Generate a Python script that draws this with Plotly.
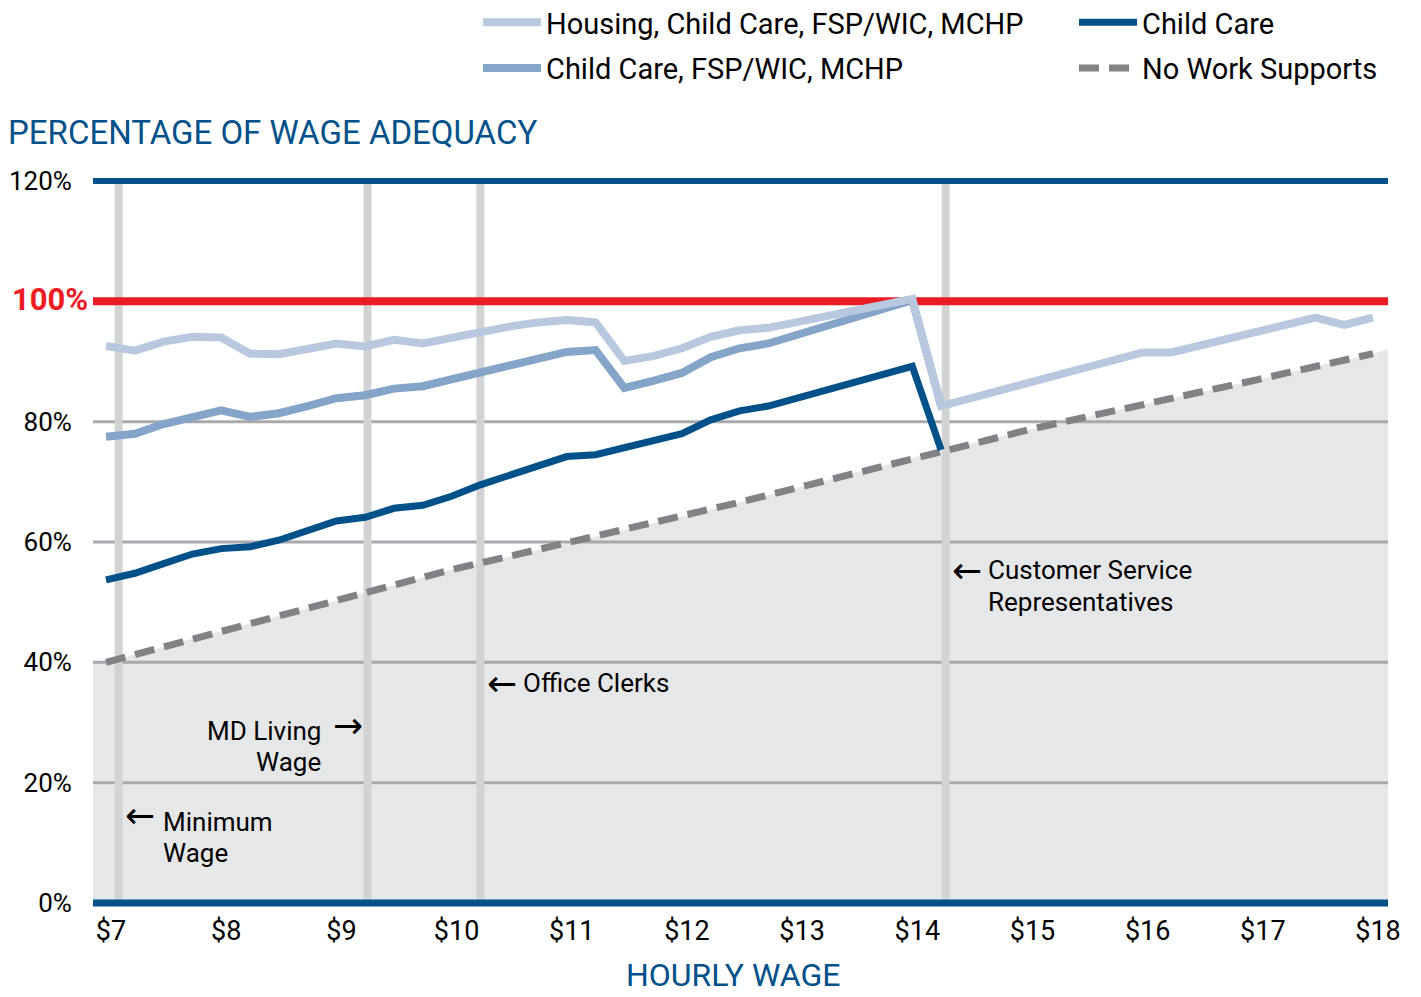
import plotly.graph_objects as go

# ---------------- data ----------------
wages = [7.00, 7.25, 7.50, 7.75, 8.00, 8.25, 8.50, 8.75, 9.00, 9.25, 9.50, 9.75,
         10.00, 10.25, 10.50, 10.75, 11.00, 11.25, 11.50, 11.75, 12.00, 12.25, 12.50, 12.75,
         13.00, 13.25, 13.50, 13.75, 14.00, 14.25, 14.50, 14.75, 15.00, 15.25, 15.50, 15.75,
         16.00, 16.25, 16.50, 16.75, 17.00, 17.25, 17.50, 17.75, 18.00]

housing_cc_fsp_mchp = [92.6, 91.8, 93.3, 94.1, 94.0, 91.3, 91.2, 92.2, 93.0, 92.5, 93.6, 93.0,
                       94.0, 94.9, 95.8, 96.5, 96.9, 96.5, 90.1, 90.9, 92.2, 94.1, 95.2, 95.6,
                       96.6, 97.6, 98.5, 99.3, 100.4, 82.6, 83.9, 85.1, 86.4, 87.7, 88.9, 90.2,
                       91.5, 91.5, 92.7, 93.8, 95.0, 96.1, 97.3, 96.1, 97.3]

cc_fsp_mchp = [77.5, 78.0, 79.6, 80.9, 81.9, 80.8, 81.4, 82.6, 83.9, 84.4, 85.5, 85.9,
               87.0, 88.2, 89.3, 90.5, 91.6, 91.9, 85.6, 86.8, 88.1, 90.7, 92.2, 93.0,
               94.4, 95.8, 97.2, 98.8, 100.2, 82.6]

child_care = [53.7, 54.8, 56.4, 58.0, 58.9, 59.2, 60.3, 62.0, 63.5, 64.1, 65.6, 66.1,
              67.6, 69.5, 71.1, 72.8, 74.2, 74.5, 75.6, 76.7, 78.0, 80.3, 81.8, 82.6,
              83.9, 85.3, 86.6, 87.8, 89.2, 75.3]

no_work_supports = [40.0, 41.3, 42.6, 43.9, 45.2, 46.5, 47.7, 49.0, 50.3, 51.6, 52.8, 54.1,
                    55.4, 56.5, 57.6, 58.7, 59.8, 60.9, 62.0, 63.1, 64.2, 65.4, 66.6, 67.8,
                    69.0, 70.2, 71.5, 72.7, 74.0, 75.2, 76.3, 77.5, 78.6, 79.7, 80.7, 81.8,
                    82.8, 83.9, 84.9, 86.0, 87.0, 88.1, 89.2, 90.2, 91.3]

shade_right_edge = 92.1          # top of the shaded band at the right edge of the plot

occupation_wages = [7.11, 9.27, 10.25, 14.29]   # Minimum Wage, MD Living Wage, Office Clerks, CSR

x_ticks = [7, 8, 9, 10, 11, 12, 13, 14, 15, 16, 17, 18]
x_tick_labels = ["$7", "$8", "$9", "$10", "$11", "$12", "$13", "$14", "$15", "$16", "$17", "$18"]
y_ticks = [0, 20, 40, 60, 80, 120]
y_tick_labels = ["0%", "20%", "40%", "60%", "80%", "120%"]
grid_levels = [20, 40, 60, 80]

X_MIN, X_MAX = 6.887, 18.13
Y_MIN, Y_MAX = -1.5, 121.5

# ---------------- style ----------------
FONT = "Roboto, 'DejaVu Sans', sans-serif"
ARROW_FONT = "'DejaVu Sans', sans-serif"
DARK_BLUE = "#00508a"
MID_BLUE = "#84a4c8"
LIGHT_BLUE = "#b8c9df"
GREY_DASH = "#808285"
RED = "#ed1c24"
SHADE = "#e6e7e8"
GRID = "#a7a9ac"
REFLINE = "#d1d3d4"

fig = go.Figure()

fig.add_trace(go.Scatter(
    x=wages, y=no_work_supports, mode="lines", name="No Work Supports",
    line=dict(color=GREY_DASH, width=7, dash="20px,10px"),
    legend="legend2", legendrank=2, legendgroup="g4"))
fig.add_trace(go.Scatter(
    x=wages[:len(cc_fsp_mchp)], y=cc_fsp_mchp, mode="lines", name="Child Care, FSP/WIC, MCHP",
    line=dict(color=MID_BLUE, width=8), legend="legend", legendrank=2, legendgroup="g2"))
fig.add_trace(go.Scatter(
    x=wages[:len(child_care)], y=child_care, mode="lines", name="Child Care",
    line=dict(color=DARK_BLUE, width=7), legend="legend2", legendrank=1, legendgroup="g3"))
fig.add_trace(go.Scatter(
    x=wages, y=housing_cc_fsp_mchp, mode="lines", name="Housing, Child Care, FSP/WIC, MCHP",
    line=dict(color=LIGHT_BLUE, width=8), legend="legend", legendrank=1, legendgroup="g1"))

# shaded area under the "no work supports" line
path = f"M {X_MIN},0 L {X_MIN},{no_work_supports[0]} "
path += " ".join(f"L {w},{v}" for w, v in zip(wages, no_work_supports))
path += f" L {X_MAX},{shade_right_edge} L {X_MAX},0 Z"
shapes = [dict(type="path", path=path, xref="x", yref="y", fillcolor=SHADE,
               line=dict(width=0), layer="below")]
# grid lines above the shading (same subplot layer, drawn after the shading)
for g in grid_levels:
    shapes.append(dict(type="line", xref="x", yref="y", x0=X_MIN, x1=X_MAX, y0=g, y1=g,
                       line=dict(color=GRID, width=3), layer="below"))
# occupation reference lines
for w in occupation_wages:
    shapes.append(dict(type="line", xref="x", yref="y", x0=w, x1=w, y0=0, y1=120,
                       line=dict(color=REFLINE, width=8), layer="between"))
# 100%, 120% and 0% lines
for yv, col, wd in [(100, RED, 8), (120, DARK_BLUE, 6), (0, DARK_BLUE, 7)]:
    shapes.append(dict(type="line", xref="x", yref="y", x0=X_MIN, x1=X_MAX, y0=yv, y1=yv,
                       line=dict(color=col, width=wd), layer="between"))

ann_font = dict(family=FONT, size=26, color="black")
arr_font = dict(family=ARROW_FONT, size=36, color="black")


def note(text, x, y, anchor="left", font=ann_font):
    return dict(text=text, x=x, y=y, xanchor=anchor, yanchor="middle",
                showarrow=False, font=font)


annotations = [
    dict(text="PERCENTAGE OF WAGE ADEQUACY", xref="paper", yref="paper",
         x=-0.0672, y=(912 - 133) / 740, xanchor="left", yanchor="middle", showarrow=False,
         font=dict(family=FONT, size=33, color=DARK_BLUE)),
    dict(text="HOURLY WAGE", xref="paper", yref="paper", x=0.494, y=(912 - 975) / 740,
         xanchor="center", yanchor="middle", showarrow=False,
         font=dict(family=FONT, size=32, color=DARK_BLUE)),
    dict(text="<b>100%</b>", xref="paper", yref="y", x=-0.0640, y=100.3, xanchor="left",
         yanchor="middle", showarrow=False, font=dict(family=FONT, size=31, color=RED)),
    note("\u2190", 14.33, 55.2, font=arr_font),
    note("Customer Service", 14.64, 55.3),
    note("Representatives", 14.64, 50.0),
    note("\u2190", 10.29, 36.4, font=arr_font),
    note("Office Clerks", 10.60, 36.6),
    note("MD Living", 8.88, 28.6, anchor="right"),
    note("\u2192", 8.95, 29.5, font=arr_font),
    note("Wage", 8.88, 23.4, anchor="right"),
    note("\u2190", 7.15, 14.5, font=arr_font),
    note("Minimum", 7.48, 13.5),
    note("Wage", 7.48, 8.3),
]

legend_common = dict(orientation="v", itemwidth=58, tracegroupgap=5,
                     font=dict(family=FONT, size=29, color="black"),
                     bgcolor="rgba(0,0,0,0)", yanchor="top", xanchor="left",
                     xref="paper", yref="paper")

# the page body adds an 8px offset, so the figure is 8px smaller with shifted margins
fig.update_layout(
    width=1413, height=989,
    margin=dict(l=85, r=33, t=164, b=85, autoexpand=False),
    paper_bgcolor="white", plot_bgcolor="white",
    shapes=shapes, annotations=annotations,
    legend=dict(x=(478 - 93) / 1295, y=(912 + 3) / 740, **legend_common),
    legend2=dict(x=(1074 - 93) / 1295, y=(912 + 3) / 740, **legend_common),
    xaxis=dict(range=[X_MIN, X_MAX], tickvals=x_ticks, ticktext=x_tick_labels,
               showgrid=False, zeroline=False, showline=False, ticks="", automargin=False,
               tickfont=dict(family=FONT, size=27, color="black"), ticklabelshift=5),
    yaxis=dict(range=[Y_MIN, Y_MAX], tickvals=y_ticks, ticktext=y_tick_labels,
               showgrid=False, zeroline=False, showline=False,
               ticks="outside", ticklen=15, tickcolor="rgba(0,0,0,0)", automargin=False,
               tickfont=dict(family=FONT, size=26, color="black")),
    hovermode=False,
)

fig.write_html("out.html")
